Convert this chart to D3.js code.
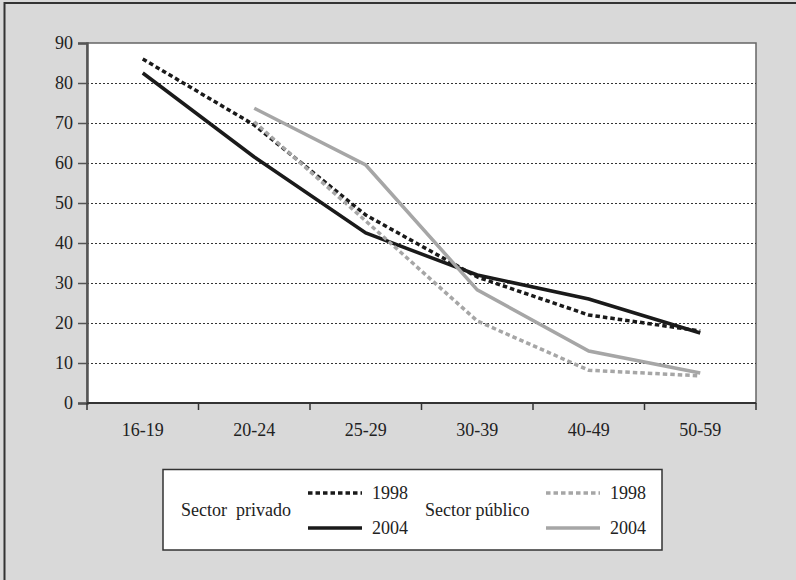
<!DOCTYPE html>
<html>
<head>
<meta charset="utf-8">
<script src="https://cdn.jsdelivr.net/npm/d3@7"></script>
<style>
  html, body { margin: 0; padding: 0; background: #d9d9d9; }
  svg { display: block; }
  svg text { font-family: "Liberation Serif", "Times New Roman", Times, "DejaVu Serif", serif !important; }
</style>
</head>
<body>
<svg id="chart" width="796" height="580"></svg>
<script>
// age groups
var ages = ["16-19", "20-24", "25-29", "30-39", "40-49", "50-59"];
var yTicks = [0, 10, 20, 30, 40, 50, 60, 70, 80, 90];

// values (null = not drawn)
var privado1998 = [86, 69.5, 47, 31.5, 22, 18];
var privado2004 = [82.5, 61.5, 42.5, 32, 26, 17.5];
var publico1998 = [null, 70.3, 45.5, 20.5, 8.2, 6.8];
var publico2004 = [null, 73.7, 59.5, 28.3, 13, 7.5];

var black = "#1a1a1a", grey = "#a6a6a6";
var serif = "Liberation Serif, Times New Roman, DejaVu Serif, serif";

var series = [
  { name: "privado1998", values: privado1998, color: black, dash: "4.5,3" },
  { name: "privado2004", values: privado2004, color: black, dash: null },
  { name: "publico1998", values: publico1998, color: grey, dash: "4.5,3" },
  { name: "publico2004", values: publico2004, color: grey, dash: null }
];

var svg = d3.select("#chart").attr("font-family", serif);

// outer frame (right and bottom edges fall outside the picture)
svg.append("rect")
  .attr("x", 4.5).attr("y", 3)
  .attr("width", 820).attr("height", 600)
  .attr("fill", "#d9d9d9")
  .attr("stroke", "#333").attr("stroke-width", 2);

var plot = { left: 87, top: 43, right: 756, bottom: 403 };

var x = d3.scaleBand().domain(ages).range([plot.left, plot.right]);
var y = d3.scaleLinear().domain([0, 90]).range([plot.bottom, plot.top]);

// plot background
svg.append("rect")
  .attr("x", plot.left).attr("y", plot.top)
  .attr("width", plot.right - plot.left).attr("height", plot.bottom - plot.top)
  .attr("fill", "#fff")
  .attr("stroke", "#666").attr("stroke-width", 1.5);

// dotted gridlines
svg.append("g")
  .selectAll("line")
  .data(yTicks.filter(function (d) { return d > 0 && d < 90; }))
  .enter().append("line")
  .attr("x1", plot.left).attr("x2", plot.right)
  .attr("y1", function (d) { return Math.round(y(d)) + 0.5; })
  .attr("y2", function (d) { return Math.round(y(d)) + 0.5; })
  .attr("stroke", "#333").attr("stroke-width", 1.2)
  .attr("stroke-dasharray", "2,2");

// y axis
var yAxis = svg.append("g")
  .attr("transform", "translate(" + plot.left + ",0)")
  .call(d3.axisLeft(y).tickValues(yTicks).tickSize(9).tickPadding(5))
  .attr("font-family", serif).attr("font-size", 18);
yAxis.select(".domain").attr("stroke", "#555").attr("stroke-width", 2.5);
yAxis.selectAll(".tick line").attr("stroke", "#555").attr("stroke-width", 1.5);
yAxis.selectAll("text").attr("font-size", 18).attr("fill", "#222")
  .attr("font-family", serif);

// x axis with ticks at band edges
var xAxis = svg.append("g")
  .attr("transform", "translate(0," + plot.bottom + ")");
xAxis.append("line")
  .attr("x1", plot.left).attr("x2", plot.right)
  .attr("stroke", "#333").attr("stroke-width", 2);
xAxis.selectAll(".edge")
  .data(ages.concat(["end"]))
  .enter().append("line")
  .attr("class", "edge")
  .attr("x1", function (d, i) { return i < ages.length ? x(d) : plot.right; })
  .attr("x2", function (d, i) { return i < ages.length ? x(d) : plot.right; })
  .attr("y1", 0).attr("y2", 7)
  .attr("stroke", "#333").attr("stroke-width", 1.5);
xAxis.selectAll(".lbl")
  .data(ages)
  .enter().append("text")
  .attr("class", "lbl")
  .attr("x", function (d) { return x(d) + x.bandwidth() / 2; })
  .attr("y", 33)
  .attr("text-anchor", "middle")
  .attr("font-family", serif)
  .attr("font-size", 18).attr("fill", "#222")
  .text(function (d) { return d; });

// lines
var line = d3.line()
  .defined(function (d) { return d != null; })
  .x(function (d, i) { return x(ages[i]) + x.bandwidth() / 2; })
  .y(function (d) { return y(d); });

svg.append("g")
  .selectAll("path")
  .data(series)
  .enter().append("path")
  .attr("d", function (s) { return line(s.values); })
  .attr("fill", "none")
  .attr("stroke", function (s) { return s.color; })
  .attr("stroke-width", 3.5)
  .attr("stroke-dasharray", function (s) { return s.dash; });

// legend
var legend = svg.append("g").attr("font-family", serif);
legend.append("rect")
  .attr("x", 163).attr("y", 469.5)
  .attr("width", 499).attr("height", 80.5)
  .attr("fill", "#fff")
  .attr("stroke", "#333").attr("stroke-width", 1.5);

legend.append("text").attr("x", 181).attr("y", 516)
  .attr("font-size", 18).attr("fill", "#222")
  .attr("xml:space", "preserve")
  .text("Sector  privado");
legend.append("text").attr("x", 425).attr("y", 516)
  .attr("font-size", 18).attr("fill", "#222")
  .text("Sector público");

var legendItems = [
  { s: series[0], x: 308, y: 493, label: "1998" },
  { s: series[1], x: 308, y: 528, label: "2004" },
  { s: series[2], x: 546, y: 493, label: "1998" },
  { s: series[3], x: 546, y: 528, label: "2004" }
];
legendItems.forEach(function (d) {
  legend.append("line")
    .attr("x1", d.x).attr("x2", d.x + 54)
    .attr("y1", d.y).attr("y2", d.y)
    .attr("stroke", d.s.color).attr("stroke-width", 3.5)
    .attr("stroke-dasharray", d.s.dash);
  legend.append("text")
    .attr("x", d.x + 64).attr("y", d.y + 6)
    .attr("font-size", 18).attr("fill", "#222")
    .text(d.label);
});
</script>
</body>
</html>
